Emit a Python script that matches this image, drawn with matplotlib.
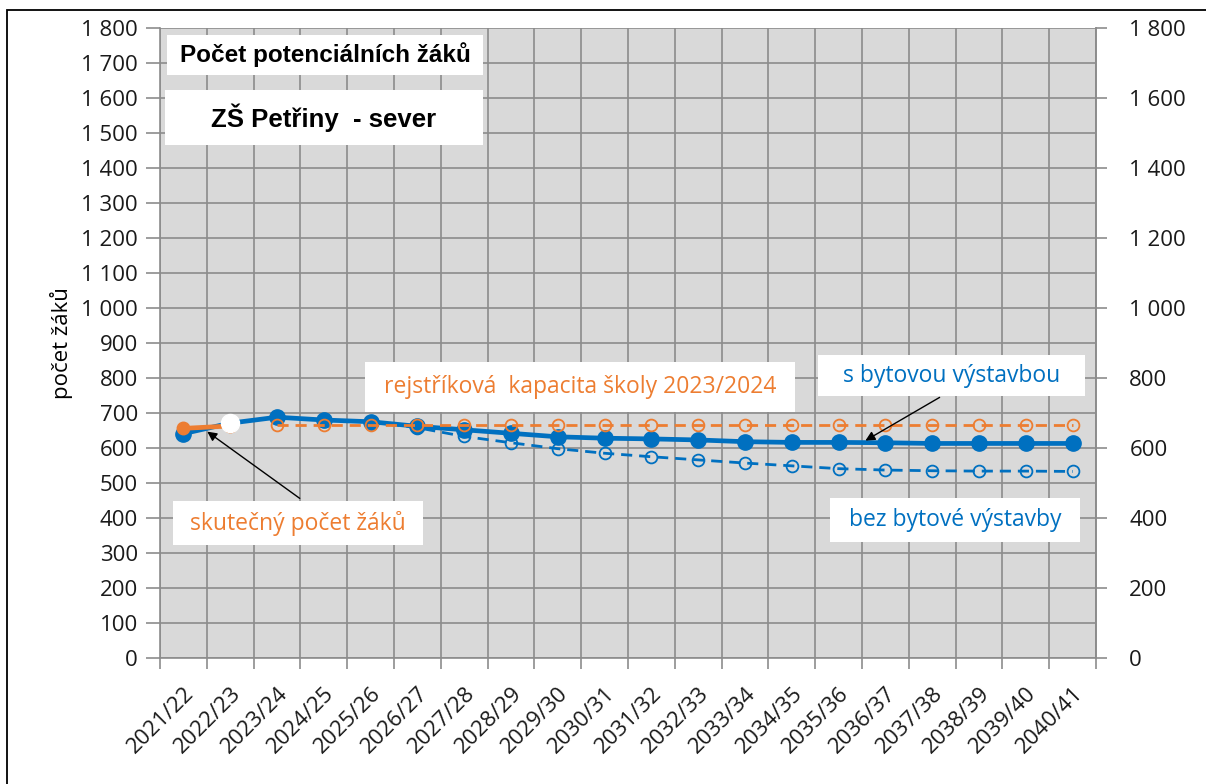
import numpy as np
import matplotlib.pyplot as plt
from matplotlib.patches import Rectangle
from matplotlib.ticker import FuncFormatter, MultipleLocator, FixedLocator

roky = ['2021/22', '2022/23', '2023/24', '2024/25', '2025/26', '2026/27', '2027/28',
        '2028/29', '2029/30', '2030/31', '2031/32', '2032/33', '2033/34', '2034/35',
        '2035/36', '2036/37', '2037/38', '2038/39', '2039/40', '2040/41']
nan = np.nan
# prognoza s bytovou vystavbou
s_vystavbou = [641, 671, 688, 680, 675, 662, 652, 642, 632, 628,
               626, 623, 618, 616, 616, 615, 613, 613, 613, 613]
# prognoza bez bytove vystavby
bez_vystavby = [nan, nan, nan, nan, 675, 658, 633, 615, 598, 585,
                575, 566, 557, 549, 541, 537, 535, 534, 534, 533]
# rejstrikova kapacita skoly
kapacita = [nan, nan] + [665] * 18
# skutecny pocet zaku
skutecnost = [656, 663] + [nan] * 18

MODRA = '#0070C0'
ORANZ = '#ED7D31'
SEDA = '#8C8C8C'
FONT = 'Open Sans'

W, H = 1206, 784
AX_L, AX_R, AX_T, AX_B = 160, 1096, 28, 658

fig = plt.figure(figsize=(W / 100, H / 100), dpi=100)
ax = fig.add_axes([AX_L / W, 1 - AX_B / H, (AX_R - AX_L) / W, (AX_B - AX_T) / H])
ax.set_facecolor('#D9D9D9')


def pos(px, py):
    # pixel na obrazku -> souradnice osy
    return ((px - AX_L) / (AX_R - AX_L), (AX_B - py) / (AX_B - AX_T))


x = np.arange(len(roky))
ax.set_xlim(-0.5, len(roky) - 0.5)
ax.set_ylim(0, 1800)

# mrizka
ax.yaxis.set_major_locator(MultipleLocator(100))
ax.xaxis.set_major_locator(FixedLocator(x))
ax.xaxis.set_minor_locator(FixedLocator(np.arange(-0.5, len(roky), 1)))
ax.grid(True, which='major', axis='y', color=SEDA, lw=1.2)
ax.grid(True, which='minor', axis='x', color=SEDA, lw=1.2)
ax.set_axisbelow(True)
for s in ['left', 'bottom', 'right']:
    ax.spines[s].set_color(SEDA)
    ax.spines[s].set_linewidth(1.2)
ax.spines['top'].set_visible(False)

fmt = FuncFormatter(lambda v, p: f'{int(v):,}'.replace(',', ' '))
ax.yaxis.set_major_formatter(fmt)
ax.tick_params(axis='y', which='major', length=10, width=1.2, color=SEDA, pad=6,
               labelsize=16, labelcolor='#1a1a1a')
ax.tick_params(axis='x', which='major', length=0, pad=18, labelsize=16, labelcolor='#1a1a1a')
ax.tick_params(axis='x', which='minor', length=8, width=1.2, color=SEDA)
ax.set_xticks(x)
ax.set_xticklabels(roky, rotation=45, ha='right', rotation_mode='anchor', fontfamily=FONT)
for t in ax.get_yticklabels():
    t.set_fontfamily(FONT)
ax.set_ylabel('počet žáků', fontsize=16, fontfamily=FONT, labelpad=6)

# prava osa
ax2 = ax.twinx()
ax2.set_ylim(0, 1800)
ax2.yaxis.set_major_locator(MultipleLocator(200))
ax2.yaxis.set_major_formatter(fmt)
ax2.tick_params(axis='y', length=8, width=1.2, color=SEDA, pad=16, labelsize=16,
                labelcolor='#1a1a1a')
for t in ax2.get_yticklabels():
    t.set_fontfamily(FONT)
for s in ax2.spines.values():
    s.set_visible(False)
ax2.spines['right'].set_visible(True)
ax2.spines['right'].set_color(SEDA)
ax2.spines['right'].set_linewidth(1.2)

# textova pole
boxy = [
    ((167, 35, 483, 75), 'Počet potenciálních žáků', 'black', 17.5, 'bold', 'Liberation Sans'),
    ((165, 90, 483, 145), 'ZŠ Petřiny  - sever', 'black', 18.5, 'bold', 'Liberation Sans'),
    ((365, 362, 795, 412), 'rejstříková  kapacita školy 2023/2024', ORANZ, 16.5, 'normal', FONT),
    ((818, 355, 1085, 396), 's bytovou výstavbou', MODRA, 16.5, 'normal', FONT),
    ((830, 498, 1080, 542), 'bez bytové výstavby', MODRA, 16.5, 'normal', FONT),
    ((173, 501, 423, 545), 'skutečný počet žáků', ORANZ, 16.5, 'normal', FONT),
]
for (x0, y0, x1, y1), txt, c, fs, fw, ff in boxy:
    a0 = pos(x0, y1)
    a1 = pos(x1, y0)
    ax.add_patch(Rectangle(a0, a1[0] - a0[0], a1[1] - a0[1], transform=ax.transAxes,
                           facecolor='white', edgecolor='none', zorder=2))
    cx, cy = pos((x0 + x1) / 2, (y0 + y1) / 2)
    ax.text(cx, cy, txt, transform=ax.transAxes, ha='center', va='center', color=c,
            fontsize=fs, fontweight=fw, fontfamily=ff, zorder=3)

# serie
ax.plot(x, bez_vystavby, color=MODRA, lw=2, ls=(0, (4, 2.5)), marker='o', ms=8.5,
        mfc='none', mec=MODRA, mew=1.3, zorder=4)
ax.plot(x, s_vystavbou, color=MODRA, lw=3.4, marker='o', ms=11, mfc=MODRA, mec=MODRA, zorder=5)
ax.plot(x, kapacita, color=ORANZ, lw=2, ls=(0, (4, 2.5)), marker='o', ms=8.5,
        mfc='none', mec=ORANZ, mew=1.3, zorder=6)
ax.plot(x, skutecnost, color=ORANZ, lw=3.4, marker='o', ms=9, mfc=ORANZ, mec=ORANZ, zorder=6)
ax.plot(x[1], s_vystavbou[1], marker='o', ms=13, mfc='white', mec='white', zorder=7)

# sipky
sipka = dict(arrowstyle='-|>', color='black', lw=1, mutation_scale=14)
ax.annotate('', xy=pos(205, 430), xytext=pos(302, 500), xycoords='axes fraction',
            textcoords='axes fraction', arrowprops=sipka, zorder=8)
ax.annotate('', xy=pos(863, 442), xytext=pos(942, 396), xycoords='axes fraction',
            textcoords='axes fraction', arrowprops=sipka, zorder=8)

# ramecek grafu
fig.add_artist(Rectangle((7 / W, -0.05), 1.2, 1 - 10 / H + 0.05, transform=fig.transFigure,
                         fill=False, edgecolor='black', lw=1.3))

fig.savefig('out.png', dpi=100)
